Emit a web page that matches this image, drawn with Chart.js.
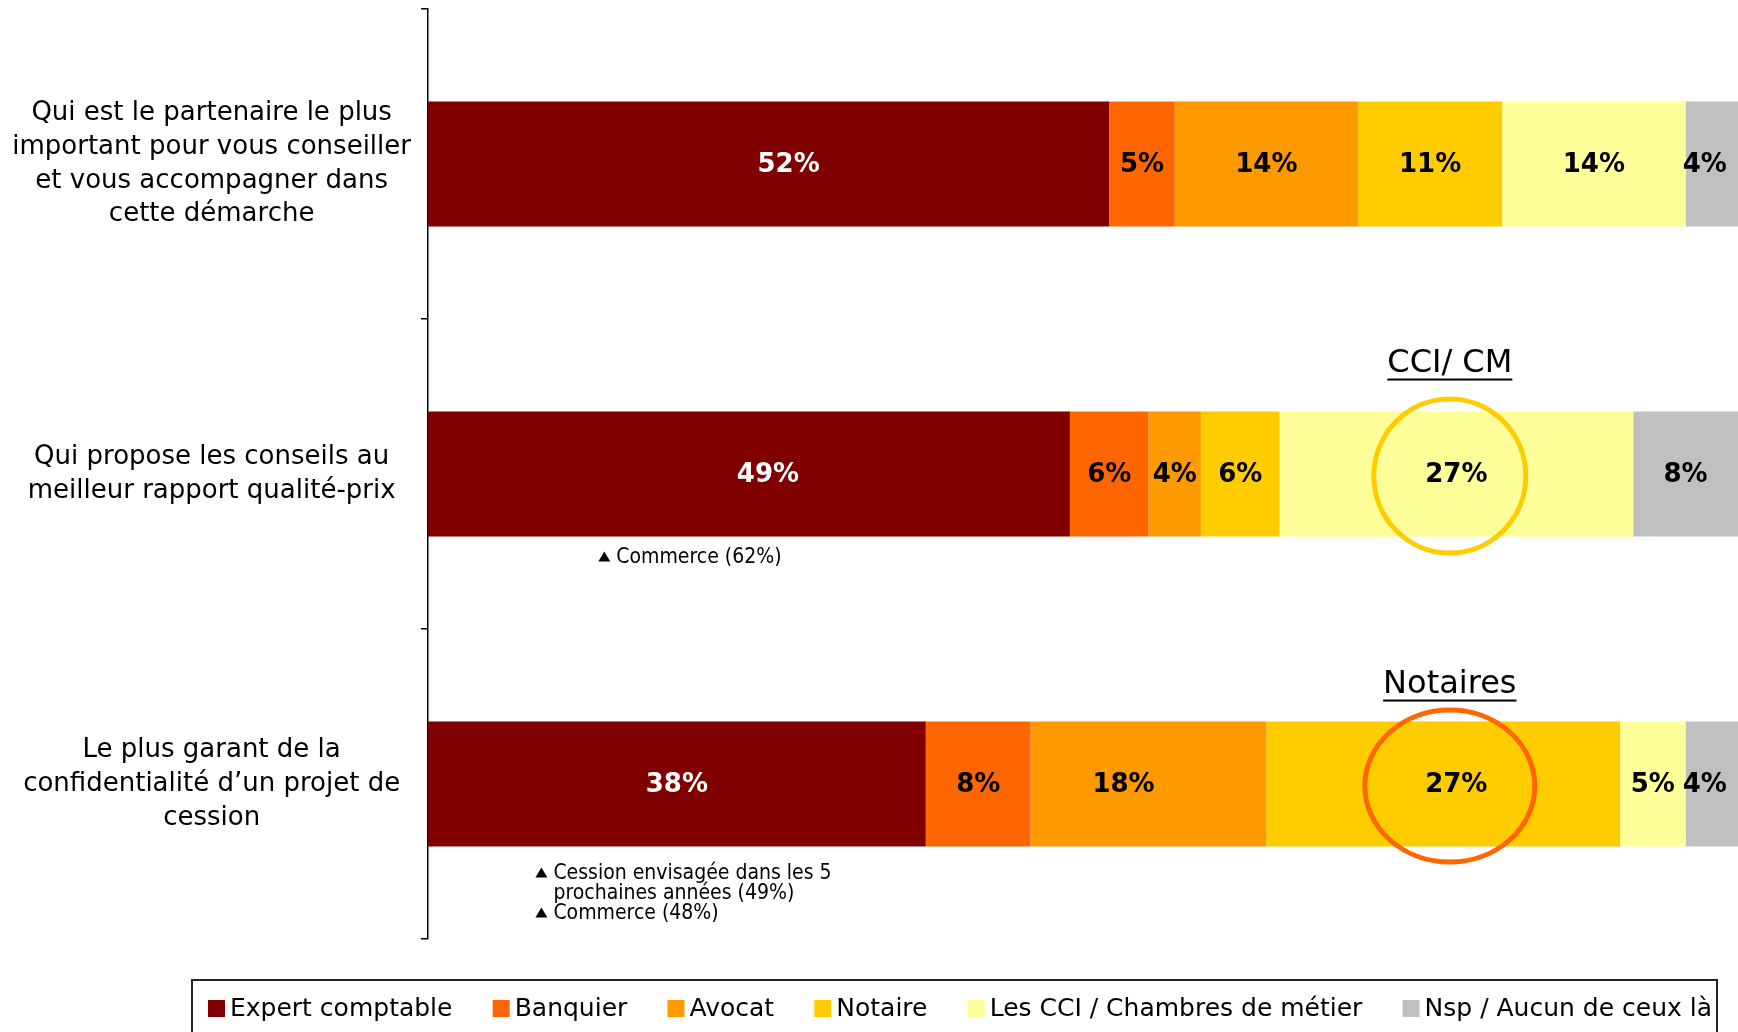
<!DOCTYPE html>
<html>
<head>
<meta charset="utf-8">
<script src="https://cdn.jsdelivr.net/npm/chart.js@4"></script>
<style>
  body { margin: 0; background: #fff; }
  #wrap { width: 1738px; height: 1032px; position: relative; }
</style>
</head>
<body>
<div id="wrap"><canvas id="chart"></canvas></div>
<script>
// questions, one per bar (multi-line labels)
const questions = [
    ['Qui est le partenaire le plus', 'important pour vous conseiller', 'et vous accompagner dans', 'cette démarche'],
    ['Qui propose les conseils au', 'meilleur rapport qualité-prix'],
    ['Le plus garant de la', 'confidentialité d\u2019un projet de', 'cession']
]

const seriesNames = ['Expert comptable', 'Banquier', 'Avocat', 'Notaire', 'Les CCI / Chambres de métier', 'Nsp / Aucun de ceux là']

const expertComptable = [52, 49, 38]
const banquier = [5, 6, 8]
const avocat = [14, 4, 18]
const notaire = [11, 6, 27]
const cci = [14, 27, 5]
const nsp = [4, 8, 4]

// small notes under bars
const notes = [
    [],
    ['▲Commerce (62%)'],
    ['▲Cession envisagée dans les 5', 'prochaines années (49%)', '▲Commerce (48%)']
]

const colors = ['#800000', '#FF6600', '#FF9900', '#FFCC00', '#FFFF99', '#C0C0C0']
const FONT = "'DejaVu Sans', Verdana, sans-serif"

function makeDataset(i, values){
    return {
        label: seriesNames[i],
        data: values,
        backgroundColor: colors[i],
        borderWidth: 0,
        stack: 's',
        barPercentage: 1,
        categoryPercentage: 0.403
    }
}

// label nudges (px) where the original labels sit off centre
const nudge = {'0,0': 20, '0,1': 19, '2,2': -25, '3,2': 13, '5,0': -7, '5,2': -7}

const highlights = [
    {cat: 1, at: 78, title: 'CCI/ CM', color: '#FFCC00', rx: 76, ry: 77, dy: -48},
    {cat: 2, at: 78, title: 'Notaires', color: '#FF6600', rx: 85, ry: 76, dy: -37}
]
const noteAt = [0, 13, 8.2]

const overlay = {
    id: 'overlay',
    afterDatasetsDraw(chart){
        const ctx = chart.ctx
        const xs = chart.scales.x
        const first = chart.getDatasetMeta(0)

        // circles + titles
        highlights.forEach(h => {
            const bar = first.data[h.cat]
            const cx = xs.getPixelForValue(h.at)
            ctx.save()
            ctx.strokeStyle = h.color
            ctx.lineWidth = 5
            ctx.beginPath()
            ctx.ellipse(cx, bar.y + 2, h.rx, h.ry, 0, 0, Math.PI * 2)
            ctx.stroke()

            const top = bar.y - bar.height / 2
            ctx.font = '32px ' + FONT
            ctx.fillStyle = '#000'
            ctx.textAlign = 'center'
            ctx.textBaseline = 'middle'
            ctx.fillText(h.title, cx, top + h.dy)
            const w = ctx.measureText(h.title).width
            ctx.fillRect(cx - w / 2, top + h.dy + 15, w, 2)
            ctx.restore()
        })

        // value labels
        chart.data.datasets.forEach((ds, di) => {
            const meta = chart.getDatasetMeta(di)
            meta.data.forEach((el, i) => {
                const v = ds.data[i]
                if (!v) return
                const x = (el.x + el.base) / 2 + (nudge[di + ',' + i] || 0)
                ctx.save()
                ctx.font = 'bold 26px ' + FONT
                ctx.fillStyle = di === 0 ? '#fff' : '#000'
                ctx.textAlign = 'center'
                ctx.textBaseline = 'middle'
                ctx.fillText(v + '%', x, el.y + 1)
                ctx.restore()
            })
        })

        // notes
        notes.forEach((lines, ci) => {
            if (!lines.length) return
            const bar = first.data[ci]
            const x0 = xs.getPixelForValue(noteAt[ci])
            let y = bar.y + bar.height / 2 + (lines.length > 1 ? 27 : 21)
            ctx.save()
            ctx.font = "21px 'DejaVu Sans Condensed', 'DejaVu Sans', sans-serif"
            ctx.fillStyle = '#000'
            ctx.textBaseline = 'middle'
            lines.forEach(line => {
                let txt = line
                if (line.startsWith('▲')) {
                    txt = line.slice(1)
                    ctx.beginPath()
                    ctx.moveTo(x0, y + 4)
                    ctx.lineTo(x0 + 12, y + 4)
                    ctx.lineTo(x0 + 6, y - 6)
                    ctx.closePath()
                    ctx.fill()
                }
                ctx.fillText(txt, x0 + 18, y)
                y += 20
            })
            ctx.restore()
        })
    },
    afterDraw(chart){
        // framed legend at the bottom
        const ctx = chart.ctx
        ctx.save()
        ctx.strokeStyle = '#222'
        ctx.lineWidth = 2
        ctx.strokeRect(192, 980, 1525, 70)
        ctx.font = '25px ' + FONT
        ctx.textBaseline = 'middle'
        const widths = chart.data.datasets.map(d => ctx.measureText(d.label).width)
        const span = 1712 - 208
        const gap = (span - widths.reduce((a, b) => a + b, 0) - 6 * 22) / 5
        let x = 208
        chart.data.datasets.forEach((d, i) => {
            ctx.fillStyle = d.backgroundColor
            ctx.fillRect(x, 1000, 17, 17)
            ctx.fillStyle = '#000'
            ctx.fillText(d.label, x + 22, 1009)
            x += 22 + widths[i] + gap
        })
        ctx.restore()
    }
}

const data = {
    labels: questions,
    datasets: [
        makeDataset(0, expertComptable),
        makeDataset(1, banquier),
        makeDataset(2, avocat),
        makeDataset(3, notaire),
        makeDataset(4, cci),
        makeDataset(5, nsp)
    ]
}

const config = {
    type: 'bar',
    data: data,
    options: {
        indexAxis: 'y',
        responsive: true,
        maintainAspectRatio: false,
        animation: false,
        layout: {padding: {top: 9, bottom: 93, left: 0, right: 0}},
        plugins: {legend: {display: false}, tooltip: {enabled: false}},
        scales: {
            x: {stacked: true, min: 0, max: 100, display: false},
            y: {
                stacked: true,
                grid: {drawOnChartArea: false, drawTicks: true, tickLength: 7, offset: true, color: '#000', lineWidth: 1.5},
                border: {display: true, color: '#000', width: 1.5},
                ticks: {
                    color: '#000',
                    crossAlign: 'center',
                    padding: 10,
                    font: {family: FONT, size: 26, lineHeight: 1.3}
                },
                afterFit(s){
                    s.width = 428
                    s.paddingTop = 0
                    s.paddingBottom = 0
                }
            }
        }
    },
    plugins: [overlay]
}

let ctx = document.getElementById('chart').getContext('2d')
new Chart(ctx, config)
</script>
</body>
</html>
